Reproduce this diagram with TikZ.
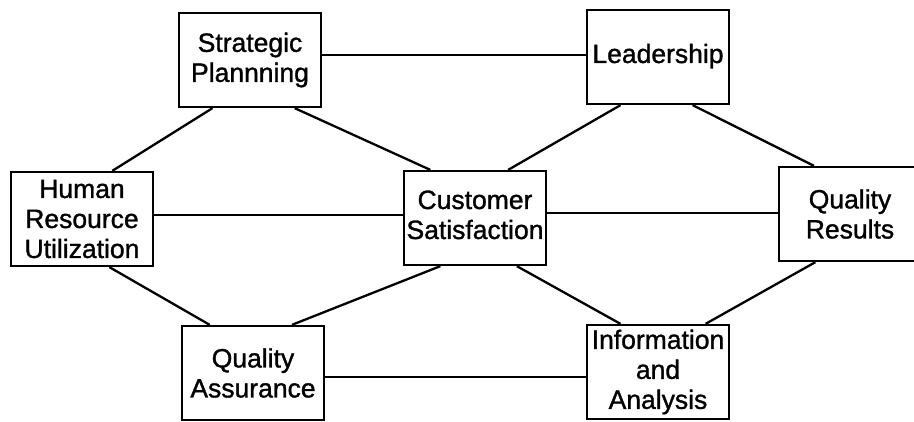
\documentclass[tikz,border=0pt]{standalone}
\usepackage{fontspec}
\setmainfont{Liberation Sans}
\newfontfamily\boxfont{Liberation Sans}[FakeBold=1.2]
\usetikzlibrary{calc}
\newcommand{\lifted}[2]{\raisebox{#1}{\begin{tabular}{@{}c@{}}#2\end{tabular}}}
\begin{document}
\begin{tikzpicture}[x=1pt,y=-1pt,
  box/.style={draw, line width=2.3pt, inner sep=0pt, align=center,
    minimum width=142pt, minimum height=94pt,
    font=\boxfont\fontsize{26.5}{30}\selectfont},
  link/.style={line width=2.3pt}]
  \useasboundingbox (0,0) rectangle (914,422);
  \clip (0,0) rectangle (914,422);

  % boxes
  \node[box] (SP) at (250,60)  {Strategic\\Plannning};
  \node[box] (L)  at (658,57)  {\lifted{3pt}{Leadership}};
  \node[box] (HR) at (82,219)  {Human\\Resource\\Utilization};
  \node[box] (CS) at (475,218) {\lifted{6pt}{Customer\\Satisfaction}};
  \node[box] (QR) at (850,214) {Quality\\Results};
  \node[box] (QA) at (253,373) {Quality\\Assurance};
  \node[box] (IA) at (658,372) {Information\\and\\Analysis};

  % heights of the horizontal links
  \coordinate (top)  at (0,55);
  \coordinate (midl) at (0,215);
  \coordinate (midr) at (0,213);
  \coordinate (bot)  at (0,377);

  % horizontal links
  \draw[link] (SP.east |- top) -- (L.west |- top);
  \draw[link] (HR.east |- midl) -- (CS.west |- midl);
  \draw[link] (CS.east |- midr) -- (QR.west |- midr);
  \draw[link] (QA.east |- bot) -- (IA.west |- bot);

  % diagonal links
  \draw[link] ($(SP.south west)!0.24!(SP.south east)$) -- ($(HR.north west)!0.71!(HR.north east)$);
  \draw[link] ($(SP.south west)!0.81!(SP.south east)$) -- ($(CS.north west)!0.19!(CS.north east)$);
  \draw[link] ($(L.south west)!0.24!(L.south east)$) -- ($(CS.north west)!0.73!(CS.north east)$);
  \draw[link] ($(L.south west)!0.74!(L.south east)$) -- ($(QR.north west)!0.25!(QR.north east)$);
  \draw[link] ($(HR.south west)!0.69!(HR.south east)$) -- ($(QA.north west)!0.20!(QA.north east)$);
  \draw[link] ($(CS.south west)!0.26!(CS.south east)$) -- ($(QA.north west)!0.77!(QA.north east)$);
  \draw[link] ($(CS.south west)!0.79!(CS.south east)$) -- ($(IA.north west)!0.24!(IA.north east)$);
  \draw[link] ($(QR.south west)!0.26!(QR.south east)$) -- ($(IA.north west)!0.83!(IA.north east)$);
\end{tikzpicture}
\end{document}
